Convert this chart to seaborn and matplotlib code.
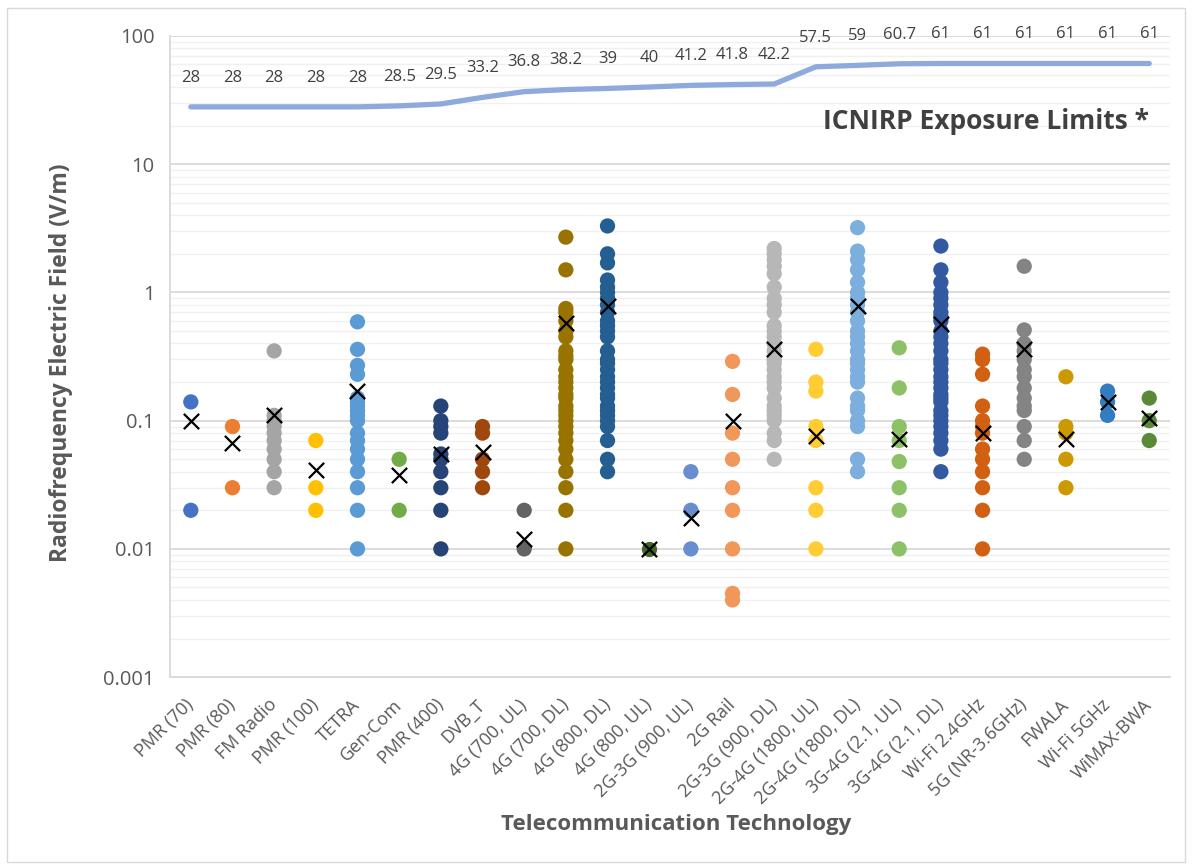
import numpy as np
import pandas as pd
import matplotlib
matplotlib.use('Agg')
import matplotlib.pyplot as plt
import matplotlib.ticker as mticker
import seaborn as sns

# categories on the x axis
technologies = ['PMR (70)', 'PMR (80)', 'FM Radio', 'PMR (100)', 'TETRA', 'Gen-Com',
                'PMR (400)', 'DVB_T', '4G (700, UL)', '4G (700, DL)', '4G (800, DL)',
                '4G (800, UL)', '2G-3G (900, UL)', '2G Rail', '2G-3G (900, DL)',
                '2G-4G (1800, UL)', '2G-4G (1800, DL)', '3G-4G (2.1, UL)', '3G-4G (2.1, DL)',
                'Wi-Fi 2.4GHz', '5G (NR-3.6GHz)', 'FWALA', 'Wi-Fi 5GHz', 'WiMAX-BWA']

# measured E-field per technology (V/m)
pmr70 = [0.14, 0.02]
pmr80 = [0.09, 0.03]
fm_radio = [0.35, 0.11, 0.1, 0.09, 0.08, 0.07, 0.06, 0.05, 0.04, 0.03]
pmr100 = [0.07, 0.03, 0.02]
tetra = [0.59, 0.36, 0.27, 0.23, 0.15, 0.14, 0.13, 0.12, 0.11, 0.1, 0.08, 0.07,
         0.06, 0.05, 0.04, 0.03, 0.02, 0.01]
gen_com = [0.05, 0.02]
pmr400 = [0.13, 0.1, 0.09, 0.08, 0.055, 0.05, 0.04, 0.03, 0.02, 0.01]
dvb_t = [0.09, 0.08, 0.05, 0.04, 0.03]
lte700_ul = [0.02, 0.01]
lte700_dl = [2.7, 1.5, 0.75, 0.7, 0.6, 0.5, 0.45, 0.35, 0.32, 0.3, 0.25, 0.22, 0.2,
             0.18, 0.16, 0.15, 0.13, 0.12, 0.11, 0.1, 0.09, 0.08, 0.07, 0.06, 0.05,
             0.04, 0.03, 0.02, 0.01]
lte800_dl = [3.3, 2.0, 1.7, 1.25, 1.1, 1.0, 0.9, 0.8, 0.7, 0.6, 0.55, 0.5, 0.45, 0.35,
             0.3, 0.28, 0.25, 0.22, 0.2, 0.18, 0.16, 0.15, 0.13, 0.12, 0.11, 0.1, 0.09,
             0.07, 0.05, 0.04]
lte800_ul = [0.01]
g23_900_ul = [0.04, 0.02, 0.01]
rail_2g = [0.29, 0.16, 0.08, 0.05, 0.03, 0.02, 0.01, 0.0045, 0.004]
g23_900_dl = [2.2, 2.0, 1.8, 1.6, 1.4, 1.1, 0.9, 0.8, 0.7, 0.55, 0.5, 0.45, 0.4, 0.35,
              0.3, 0.28, 0.25, 0.22, 0.2, 0.18, 0.15, 0.13, 0.12, 0.11, 0.1, 0.08,
              0.07, 0.05]
g24_1800_ul = [0.36, 0.2, 0.17, 0.09, 0.07, 0.03, 0.02, 0.01]
g24_1800_dl = [3.2, 2.1, 1.8, 1.5, 1.2, 1.0, 0.9, 0.8, 0.7, 0.6, 0.5, 0.45, 0.4, 0.35,
               0.3, 0.28, 0.25, 0.22, 0.2, 0.15, 0.13, 0.12, 0.1, 0.09, 0.05, 0.04]
g34_21_ul = [0.37, 0.18, 0.09, 0.07, 0.048, 0.03, 0.02, 0.01]
g34_21_dl = [2.3, 1.5, 1.2, 1.0, 0.9, 0.8, 0.7, 0.65, 0.6, 0.5, 0.45, 0.4, 0.35, 0.3,
             0.28, 0.25, 0.22, 0.2, 0.18, 0.16, 0.15, 0.14, 0.12, 0.11, 0.1, 0.09,
             0.08, 0.07, 0.06, 0.04]
wifi24 = [0.33, 0.3, 0.23, 0.13, 0.1, 0.09, 0.08, 0.06, 0.05, 0.04, 0.03, 0.02, 0.01]
nr36 = [1.6, 0.51, 0.4, 0.35, 0.3, 0.25, 0.22, 0.18, 0.15, 0.13, 0.12, 0.09, 0.07, 0.05]
fwala = [0.22, 0.09, 0.08, 0.05, 0.03]
wifi5 = [0.17, 0.14, 0.11]
wimax = [0.15, 0.1, 0.07]

measurements = [pmr70, pmr80, fm_radio, pmr100, tetra, gen_com, pmr400, dvb_t,
                lte700_ul, lte700_dl, lte800_dl, lte800_ul, g23_900_ul, rail_2g,
                g23_900_dl, g24_1800_ul, g24_1800_dl, g34_21_ul, g34_21_dl, wifi24,
                nr36, fwala, wifi5, wimax]

# average (X markers)
means = [0.1, 0.067, 0.11, 0.041, 0.17, 0.038, 0.055, 0.057, 0.012, 0.58, 0.78, 0.01,
         0.0175, 0.1, 0.36, 0.076, 0.78, 0.072, 0.57, 0.08, 0.36, 0.072, 0.14, 0.105]

# ICNIRP limits (V/m)
limits = [28, 28, 28, 28, 28, 28.5, 29.5, 33.2, 36.8, 38.2, 39, 40, 41.2, 41.8, 42.2,
          57.5, 59, 60.7, 61, 61, 61, 61, 61, 61]

colors = ['#4472C4', '#ED7D31', '#A5A5A5', '#FFC000', '#5B9BD5', '#70AD47',
          '#264478', '#9E480E', '#636363', '#997300', '#255E91', '#43682B',
          '#698ED0', '#F1975A', '#B7B7B7', '#FFCD33', '#7CAFDD', '#8CC168',
          '#335AA1', '#D26012', '#848484', '#CC9A00', '#327DC2', '#5A8A39']

rows = []
for tech, vals in zip(technologies, measurements):
    for v in vals:
        rows.append({'tech': tech, 'E': v})
df = pd.DataFrame(rows)
df_mean = pd.DataFrame({'tech': technologies, 'E': means})
df_lim = pd.DataFrame({'tech': technologies, 'E': limits})

sns.set_style('white')
plt.rcParams['font.family'] = ['Open Sans', 'DejaVu Sans']

fig = plt.figure(figsize=(11.92, 8.67), dpi=100)
ax = fig.add_axes([0.1426, 0.219, 0.839, 0.7395])
ax.set_yscale('log')

sns.pointplot(data=df_lim, x='tech', y='E', order=technologies, color='#8EA9DB',
              markers='', linewidth=3.8, errorbar=None, ax=ax)
sns.stripplot(data=df, x='tech', y='E', hue='tech', order=technologies,
              hue_order=technologies, palette=colors, jitter=False, size=11,
              linewidth=0, legend=False, ax=ax, zorder=3)
sns.stripplot(data=df_mean, x='tech', y='E', order=technologies, color='black',
              marker='x', jitter=False, size=11, linewidth=1.6, ax=ax, zorder=4)

for i, lim in enumerate(limits):
    ax.annotate('{:g}'.format(lim), (i, lim), xytext=(0, 21), textcoords='offset points',
                ha='center', va='center', fontsize=12, color='#404040')

ax.text(0.816, 0.866, 'ICNIRP Exposure Limits *', transform=ax.transAxes, ha='center',
        va='center', fontsize=19, fontweight='bold', color='#404040')

ax.set_ylim(0.001, 100)
ax.set_xlim(-0.5, len(technologies) - 0.5)
ax.yaxis.set_major_locator(mticker.FixedLocator([0.001, 0.01, 0.1, 1, 10, 100]))
ax.yaxis.set_major_formatter(mticker.FixedFormatter(['0.001', '0.01', '0.1', '1', '10', '100']))
ax.yaxis.set_minor_locator(mticker.LogLocator(base=10, subs=np.arange(2, 10)))
ax.yaxis.set_minor_formatter(mticker.NullFormatter())
ax.grid(True, which='major', axis='y', color='#D9D9D9', lw=1.3)
ax.grid(True, which='minor', axis='y', color='#F0F0F0', lw=1.0)
ax.set_axisbelow(True)

ax.set_xticks(np.arange(len(technologies)))
ax.set_xticklabels(technologies, rotation=45, ha='right', va='center',
                   rotation_mode='anchor', fontsize=13, color='#595959')
ax.xaxis.set_minor_locator(mticker.FixedLocator(np.arange(len(technologies) + 1) - 0.5))
ax.tick_params(axis='x', which='major', length=0, pad=18)
ax.tick_params(axis='x', which='minor', length=5, color='#D9D9D9', width=1.2)
ax.tick_params(axis='y', which='major', length=5, color='#D9D9D9', width=1.2,
               labelsize=14.5, labelcolor='#595959', pad=6)
ax.tick_params(axis='y', which='minor', length=0)

for s in ['top', 'right']:
    ax.spines[s].set_visible(False)
for s in ['left', 'bottom']:
    ax.spines[s].set_color('#D9D9D9')
    ax.spines[s].set_linewidth(1.3)

ax.set_xlabel('Telecommunication Technology', fontsize=16, fontweight='bold',
              color='#595959')
ax.xaxis.set_label_coords(0.506, -0.214)
ax.set_ylabel('Radiofrequency Electric Field (V/m)', fontsize=16.5, fontweight='bold',
              color='#595959')
ax.yaxis.set_label_coords(-0.097, 0.491)

fig.patches.append(plt.Rectangle((0.006, 0.006), 0.988, 0.985, transform=fig.transFigure,
                                 fill=False, edgecolor='#D9D9D9', lw=1))

fig.savefig('out.png', dpi=100)
